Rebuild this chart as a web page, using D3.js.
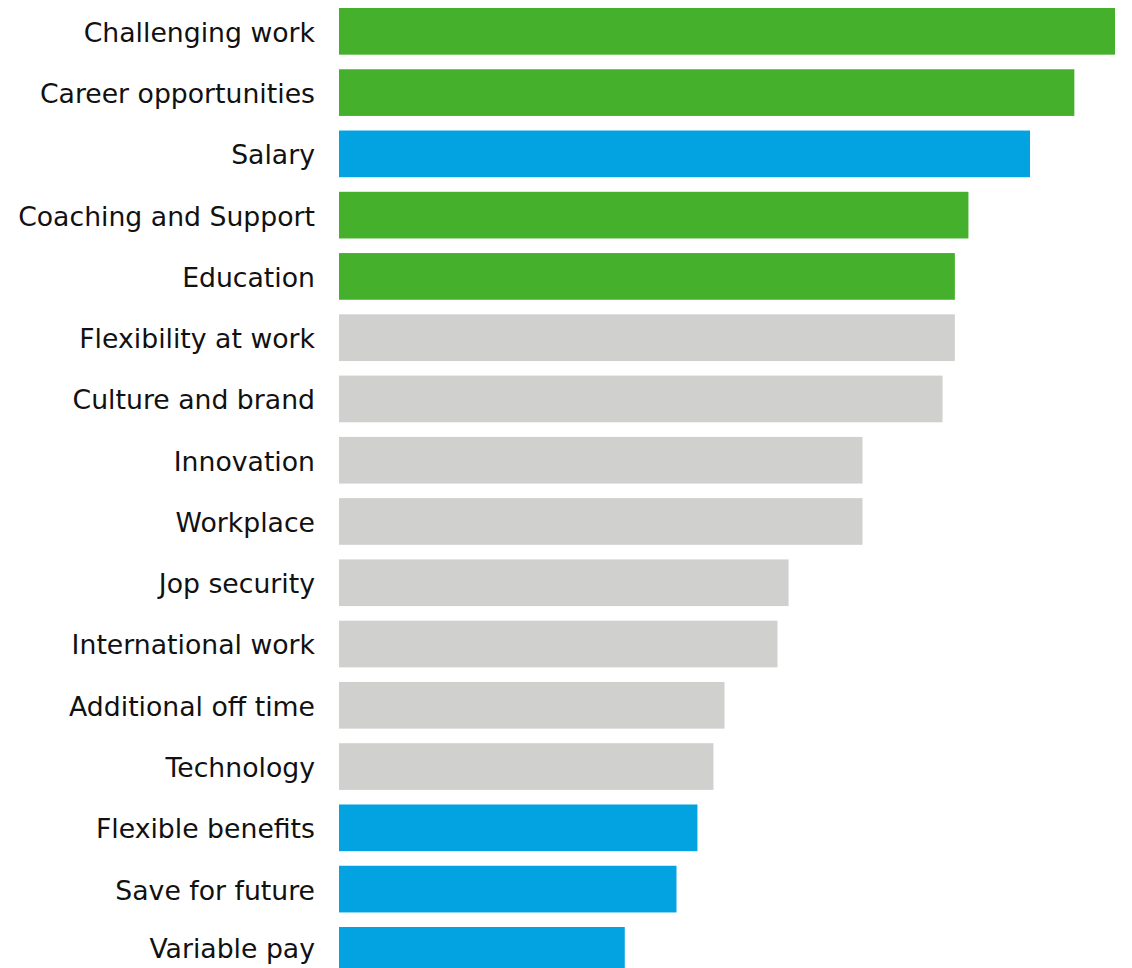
<!DOCTYPE html>
<html>
<head>
<meta charset="utf-8">
<script src="https://cdn.jsdelivr.net/npm/d3@7"></script>
<style>
  html, body { margin: 0; padding: 0; background: #fff; overflow: hidden; }
  svg { display: block; }
</style>
</head>
<body>
<svg id="chart" width="1132" height="968"></svg>
<script>
// Job attractiveness factors, share of respondents (%)
const categories = [
  "Challenging work", "Career opportunities", "Salary", "Coaching and Support",
  "Education", "Flexibility at work", "Culture and brand", "Innovation",
  "Workplace", "Jop security", "International work", "Additional off time",
  "Technology", "Flexible benefits", "Save for future", "Variable pay"
];
const values = [63.0, 59.7, 56.1, 51.1, 50.0, 50.0, 49.0, 42.5, 42.5, 36.5, 35.6, 31.3, 30.4, 29.1, 27.4, 23.2];
const groups = [
  "development", "development", "reward", "development",
  "development", "other", "other", "other",
  "other", "other", "other", "other",
  "other", "reward", "reward", "reward"
];
const groupNames = ["development", "reward", "other"];
const groupColors = ["#45b02b", "#03a2e0", "#d0d0cf"];

const W = 1132, H = 968;
const svg = d3.select("#chart");

const x = d3.scaleLinear().domain([0, 63]).range([339, 1115]);
const y = d3.scaleBand().domain(categories).range([0.7, 981]).paddingInner(0.238).paddingOuter(0.119);
const color = d3.scaleOrdinal().domain(groupNames).range(groupColors);

const rows = categories.map((c, i) => ({ name: c, value: values[i], group: groups[i] }));

svg.append("g")
  .selectAll("rect")
  .data(rows)
  .join("rect")
  .attr("x", x(0))
  .attr("y", d => y(d.name))
  .attr("width", d => x(d.value) - x(0))
  .attr("height", y.bandwidth())
  .attr("fill", d => color(d.group));

// Category labels, centred on the visible part of each bar
const yAxis = d3.axisLeft(y).tickSize(0).tickPadding(0);
const axisG = svg.append("g").attr("transform", "translate(315,0)").call(yAxis);
axisG.select(".domain").remove();
axisG.selectAll(".tick").attr("transform", d => {
  const top = y(d), bottom = Math.min(y(d) + y.bandwidth(), H);
  return `translate(0,${(top + bottom) / 2})`;
});
axisG.selectAll(".tick text")
  .attr("x", 0)
  .attr("dy", "0.39em")
  .attr("fill", "#111")
  .style("font-family", "'DejaVu Sans', Verdana, sans-serif")
  .style("font-size", "26.7px");
</script>
</body>
</html>
